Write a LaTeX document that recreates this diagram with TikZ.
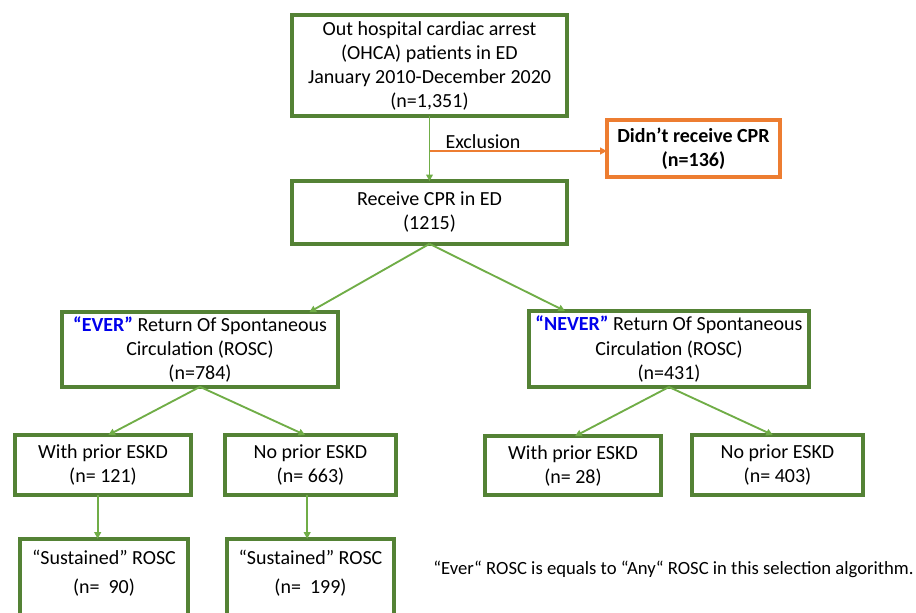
\documentclass[tikz,border=0pt]{standalone}
\usepackage{fontspec}
\setmainfont{Carlito}
\usetikzlibrary{arrows.meta}
\definecolor{boxgreen}{RGB}{84,130,53}
\definecolor{arrgreen}{RGB}{112,173,71}
\definecolor{exorange}{RGB}{237,125,49}
\definecolor{evblue}{RGB}{0,0,235}
\tikzset{
  flowbox/.style={draw=boxgreen, line width=2.6pt, inner sep=0pt, outer sep=0pt, align=center, font=\fontsize{15}{18}\selectfont},
  exbox/.style={flowbox, draw=exorange},
  flowarr/.style={draw=arrgreen, line width=1.4pt, -{Triangle[length=5pt,width=5pt]}},
}
\begin{document}
\begin{tikzpicture}[x=0.75pt,y=-0.75pt]
\useasboundingbox (0,0) rectangle (916,613);
\node[flowbox, minimum width=206pt, minimum height=76pt] (ohca) at (429.5,65.5){Out hospital cardiac arrest\\(OHCA) patients in ED\\January 2010-December 2020\\(n=1,351)};
\node[exbox, minimum width=130pt, minimum height=43pt, font=\fontsize{15}{18}\selectfont\bfseries] (nocpr) at (693.5,148.5){Didn’t receive CPR\\(n=136)};
\node[flowbox, minimum width=206pt, minimum height=47pt] (cpr) at (429.5,212.5){Receive CPR in ED\\(1215)};
\node[flowbox, minimum width=207pt, minimum height=56pt] (ever) at (200,349.5){{\color{evblue}\bfseries “EVER”} Return Of Spontaneous\\Circulation (ROSC)\\(n=784)};
\node[flowbox, minimum width=210pt, minimum height=57pt] (never) at (669,349){{\color{evblue}\bfseries “NEVER”} Return Of Spontaneous\\Circulation (ROSC)\\(n=431)};
\node[flowbox, minimum width=132pt, minimum height=45pt] (evwith) at (103,465){With prior ESKD\\(n= 121)};
\node[flowbox, minimum width=128pt, minimum height=45pt] (evno) at (310.5,465){No prior ESKD\\(n= 663)};
\node[flowbox, minimum width=132pt, minimum height=44pt] (nvwith) at (573,465.5){With prior ESKD\\(n= 28)};
\node[flowbox, minimum width=128pt, minimum height=45pt] (nvno) at (777.5,465){No prior ESKD\\(n= 403)};
\node[flowbox, minimum width=126pt, minimum height=76pt] (evwithsus) at (104,589.5){“Sustained” ROSC\\[3.75pt](n=~ 90)\\[3.75pt]\strut};
\node[flowbox, minimum width=125pt, minimum height=76pt] (evnosus) at (310.5,589.5){“Sustained” ROSC\\[3.75pt](n=~ 199)\\[3.75pt]\strut};
\node[font=\fontsize{15}{18}\selectfont] (exlabel) at (483,142){Exclusion};
\node[font=\fontsize{14}{17}\selectfont, anchor=east, inner sep=0pt] (note) at (914,569){“Ever“ ROSC is equals to “Any“ ROSC in this selection algorithm.};
\coordinate (exc) at (429.5,151);
\draw[flowarr](ohca) -- (cpr);
\draw[flowarr, draw=exorange](exc) -- (exc -| nocpr.west);
\draw[flowarr](cpr.south) -- ([xshift=82pt]ever.north);
\draw[flowarr](cpr.south) -- ([xshift=-78pt]never.north);
\draw[flowarr](ever.south) -- ([xshift=4pt]evwith.north);
\draw[flowarr](ever.south) -- ([xshift=-4pt]evno.north);
\draw[flowarr](never.south) -- ([xshift=1.5pt]nvwith.north);
\draw[flowarr](never.south) -- ([xshift=-3.5pt]nvno.north);
\draw[flowarr]([xshift=-4pt]evwith.south) -- ([xshift=-4pt]evwith.south |- evwithsus.north);
\draw[flowarr]([xshift=-2.5pt]evno.south) -- ([xshift=-2.5pt]evno.south |- evnosus.north);
\end{tikzpicture}
\end{document}
